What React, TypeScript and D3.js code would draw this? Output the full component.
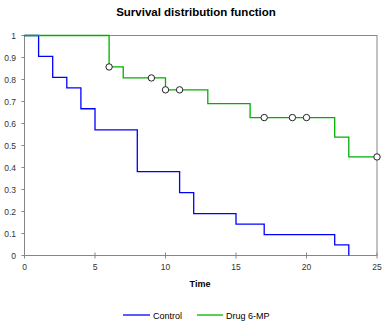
import React from "react";
import * as d3 from "d3";

const controlTimes = [0, 1, 2, 3, 4, 5, 8, 11, 12, 15, 17, 22, 23];
const controlSurv = [1, 0.905, 0.81, 0.762, 0.667, 0.571, 0.381, 0.286, 0.19, 0.143, 0.095, 0.048, 0];
const drugTimes = [0, 6, 7, 10, 13, 16, 22, 23, 25];
const drugSurv = [1, 0.857, 0.807, 0.753, 0.69, 0.627, 0.538, 0.448, 0.448];
const censorTimes = [6, 9, 10, 11, 17, 19, 20, 25];
const censorSurv = [0.857, 0.807, 0.753, 0.753, 0.627, 0.627, 0.627, 0.448];
const xTicks = [0, 5, 10, 15, 20, 25];
const yTicks = [0, 0.1, 0.2, 0.3, 0.4, 0.5, 0.6, 0.7, 0.8, 0.9, 1];
const seriesNames = ["Control", "Drug 6-MP"];
const seriesColors = ["#0000FF", "#00B000"];

export default function App() {
  const W = 389, H = 327;
  const x = d3.scaleLinear().domain([0, 25]).range([24.5, 377]);
  const y = d3.scaleLinear().domain([0, 1]).range([255.5, 35.5]);
  const line = d3.line<[number, number]>().x(d => x(d[0])).y(d => y(d[1])).curve(d3.curveStepAfter);
  const ctrl: [number, number][] = controlTimes.map((t, i) => [t, controlSurv[i]]);
  const drug: [number, number][] = drugTimes.map((t, i) => [t, drugSurv[i]]);
  const axisColor = "#868686";
  const font = "'Liberation Sans', Arial, sans-serif";
  return (
    <svg width={W} height={H} style={{ position: "absolute", left: 0, top: 0 }} fontFamily={font}>
      <rect width={W} height={H} fill="#fff" />
      <text x={196} y={16} textAnchor="middle" fontSize={11.5} fontWeight="bold" fill="#000">Survival distribution function</text>
      <rect x={x(0)} y={y(1)} width={x(25) - x(0)} height={y(0) - y(1)} fill="none" stroke={axisColor} strokeWidth={1} />
      {yTicks.map(t => (
        <g key={"y" + t}>
          <line x1={x(0) - 3} x2={x(0)} y1={y(t)} y2={y(t)} stroke={axisColor} />
          <text x={16} y={y(t) + 3} textAnchor="end" fontSize={8.5} fill="#333">{String(t)}</text>
        </g>
      ))}
      {xTicks.map(t => (
        <g key={"x" + t}>
          <line x1={x(t)} x2={x(t)} y1={y(0) - 3} y2={y(0) + 3} stroke={axisColor} />
          <text x={x(t)} y={y(0) + 14} textAnchor="middle" fontSize={8.5} fill="#333">{String(t)}</text>
        </g>
      ))}
      <path d={line(ctrl) || ""} fill="none" stroke={seriesColors[0]} strokeWidth={1.3} />
      <path d={line(drug) || ""} fill="none" stroke={seriesColors[1]} strokeWidth={1.3} />
      {censorTimes.map((t, i) => (
        <circle key={"c" + i} cx={x(t)} cy={y(censorSurv[i])} r={3.2} fill="#fff" stroke="#222" strokeWidth={1} />
      ))}
      <text x={200} y={287} textAnchor="middle" fontSize={9} fontWeight="bold" fill="#000">Time</text>
      <line x1={123} x2={150} y1={315} y2={315} stroke={seriesColors[0]} strokeWidth={1.3} />
      <text x={153} y={318.5} fontSize={9} fill="#000">{seriesNames[0]}</text>
      <line x1={197} x2={223} y1={315} y2={315} stroke={seriesColors[1]} strokeWidth={1.3} />
      <text x={226} y={318.5} fontSize={9} fill="#000">{seriesNames[1]}</text>
    </svg>
  );
}
